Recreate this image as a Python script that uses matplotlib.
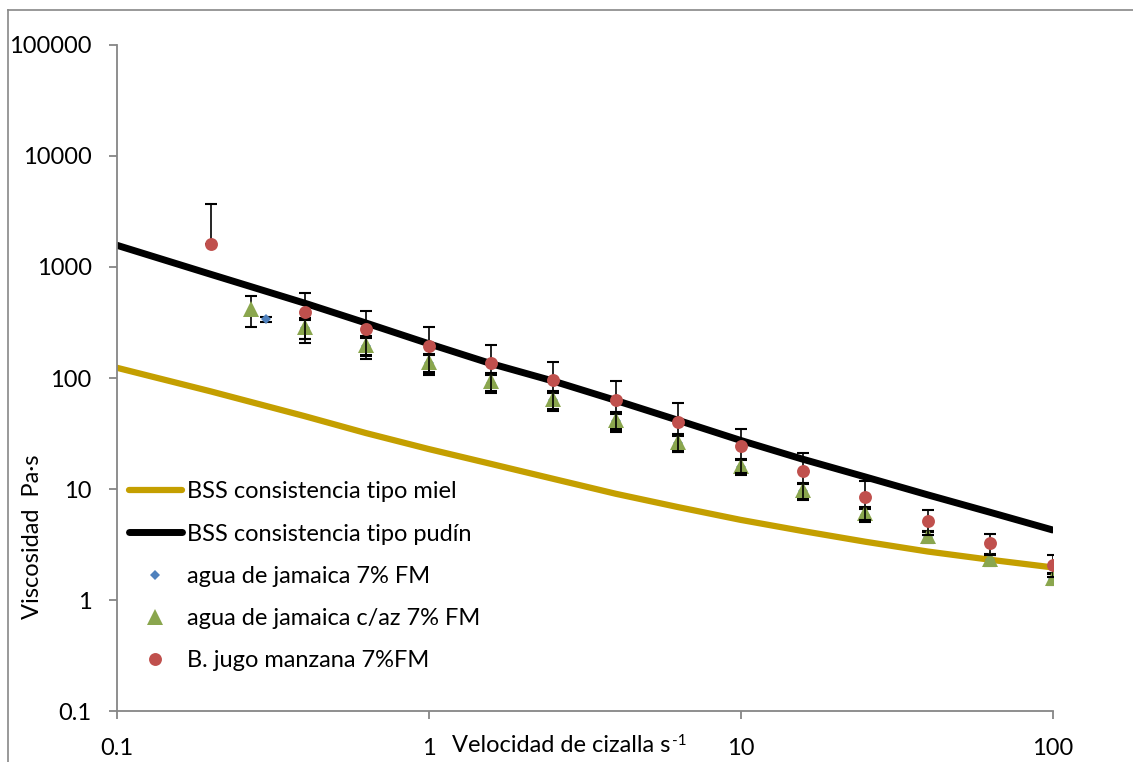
import matplotlib
matplotlib.use("Agg")
import matplotlib.pyplot as plt
from matplotlib.lines import Line2D
import numpy as np

plt.rcParams['font.family'] = ['Lato', 'DejaVu Sans']

# curvas de referencia BSS
x_bss = [0.1, 0.2, 0.4, 0.63, 1, 1.585, 2.51, 3.98, 6.31, 10, 15.85, 25.1, 39.8, 63.1, 100]
miel = [124, 76, 45.5, 32, 23, 16.9, 12.4, 9.1, 6.9, 5.3, 4.2, 3.37, 2.75, 2.32, 1.98]
pudin = [1570, 860, 473, 313, 204, 135, 94, 63, 41.7, 27.5, 18.6, 12.9, 8.9, 6.2, 4.3]

# agua de jamaica 7% FM
x_jam = [0.3, 0.4, 0.63, 1, 1.585, 2.51, 3.98, 6.31, 10, 15.85, 25.1, 39.8, 63.1, 100]
jam = [340, 280, 195, 136, 91, 63, 41, 26, 15.8, 9.6, 5.9, 3.7, 2.3, 1.56]
jam_err = [18, 55, 36, 25, 16, 11, 7, 4.4, 2.4, 1.5, 0.8, 0.4, 0.25, 0.18]

# agua de jamaica c/az 7% FM
x_jaz = [0.27, 0.4, 0.63, 1, 1.585, 2.51, 3.98, 6.31, 10, 15.85, 25.1, 39.8, 63.1, 100]
jaz = [418, 286, 200, 139, 94, 65, 42, 26.5, 16.2, 9.8, 6.05, 3.8, 2.35, 1.58]
jaz_err = [130, 60, 38, 26, 17, 12, 7.3, 4.6, 2.5, 1.6, 0.8, 0.4, 0.27, 0.19]

# B. jugo manzana 7%FM
x_manz = [0.2, 0.4, 0.63, 1, 1.585, 2.51, 3.98, 6.31, 10, 15.85, 25.1, 39.8, 63.1, 100]
manz = [1620, 397, 276, 196, 137, 96, 64, 40.5, 24.3, 14.6, 8.6, 5.2, 3.25, 2.1]
manz_err = [2030, 192, 127, 90, 63, 45, 31, 19, 10.2, 6.6, 3.3, 1.35, 0.7, 0.48]

FS = 17

fig = plt.figure(figsize=(11.33, 7.62), dpi=100)
ax = fig.add_axes([0.103, 0.0663, 0.826, 0.875])

ax.plot(x_bss, miel, color='#C49F00', lw=4.5, solid_capstyle='round', zorder=2)
ax.plot(x_bss, pudin, color='black', lw=5, solid_capstyle='round', zorder=2)


def puntos(x, y, err, color, marker, ms, z):
    y = np.array(y, dtype=float)
    err = np.array(err, dtype=float)
    # barra inferior solo si queda positiva (escala log)
    low = np.where(y - err > 0, err, 0)
    ax.errorbar(x, y, yerr=[low, err], fmt='none', ecolor='black',
                elinewidth=1.2, capsize=4.5, capthick=1.5, zorder=z)
    ax.plot(x, y, linestyle='none', marker=marker, ms=ms, color=color,
            markeredgewidth=0, zorder=z + 0.5)


puntos(x_jam, jam, jam_err, '#4F81BD', 'D', 5, 3)
puntos(x_jaz, jaz, jaz_err, '#8AA64E', '^', 12, 4)
puntos(x_manz, manz, manz_err, '#C0504D', 'o', 9.3, 5)

ax.set_xscale('log')
ax.set_yscale('log')
ax.set_xlim(0.1, 100)
ax.set_ylim(0.1, 100000)
ax.set_xticks([0.1, 1, 10, 100])
ax.set_xticklabels(['0.1', '1', '10', '100'])
ax.set_yticks([0.1, 1, 10, 100, 1000, 10000, 100000])
ax.set_yticklabels(['0.1', '1', '10', '100', '1000', '10000', '100000'])
ax.minorticks_off()

for s in ['top', 'right']:
    ax.spines[s].set_visible(False)
for s in ['left', 'bottom']:
    ax.spines[s].set_color('#868686')
    ax.spines[s].set_linewidth(1.3)
ax.tick_params(axis='both', which='major', direction='out', length=6,
               width=1.3, color='#868686', labelsize=FS, labelcolor='black')
ax.tick_params(axis='y', pad=12)
ax.tick_params(axis='x', pad=13)

xl = fig.text(452 / 1133, 1 - 746 / 762, 'Velocidad de cizalla s',
              fontsize=FS, ha='left', va='center')
ax.annotate('-1', xy=(1, 1.0), xycoords=xl, xytext=(1, 1),
            textcoords='offset points', fontsize=11, ha='left', va='top')
fig.text(33 / 1133, 1 - 537 / 762, 'Viscosidad  Pa·s', fontsize=FS,
         rotation=90, ha='center', va='center')

handles = [
    Line2D([], [], color='#C49F00', lw=4.5, solid_capstyle='round'),
    Line2D([], [], color='black', lw=5, solid_capstyle='round'),
    Line2D([], [], ls='none', marker='D', ms=5, color='#4F81BD', mew=0),
    Line2D([], [], ls='none', marker='^', ms=12, color='#8AA64E', mew=0),
    Line2D([], [], ls='none', marker='o', ms=9.3, color='#C0504D', mew=0),
]
labels = ['BSS consistencia tipo miel', 'BSS consistencia tipo pudín',
          'agua de jamaica 7% FM', 'agua de jamaica c/az 7% FM',
          'B. jugo manzana 7%FM']
ax.legend(handles, labels, loc='lower left', bbox_to_anchor=(0.013, 0.06),
          frameon=False, fontsize=FS, handlelength=2.25, handletextpad=0.22,
          labelspacing=0.9, borderpad=0, borderaxespad=0)

# marco exterior
fig.add_artist(Line2D([7.5 / 1133, 7.5 / 1133], [0, 1 - 10 / 762],
                      transform=fig.transFigure, color='#888888', lw=1.2))
fig.add_artist(Line2D([7.5 / 1133, 1], [1 - 10 / 762, 1 - 10 / 762],
                      transform=fig.transFigure, color='#888888', lw=1.2))

fig.savefig('out.png', dpi=100)
